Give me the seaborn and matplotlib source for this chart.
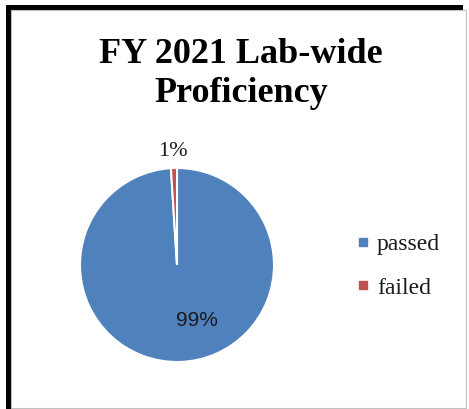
import matplotlib
matplotlib.use("Agg")
import matplotlib.pyplot as plt
import matplotlib.patches as mpatches
from matplotlib.lines import Line2D
import seaborn as sns

# ---- data ----
categories = ["passed", "failed"]
values = [99, 1]
pct_labels = ["99%", "1%"]
title = "FY 2021 Lab-wide\nProficiency"

sns.set_theme(style="white")
plt.rcParams["font.family"] = ["Liberation Serif", "DejaVu Serif"]

colors = ["#4F81BD", "#C0504D"]

W, H = 469, 409
fig = plt.figure(figsize=(W / 100, H / 100), dpi=100)
fig.patch.set_facecolor("white")

# frame (black offset border + thin gray border)
fig.patches.append(mpatches.Rectangle((6 / W, 0), (463 - 6) / W, (H - 5) / H,
                                      transform=fig.transFigure, facecolor="black",
                                      edgecolor="none", zorder=-2))
fig.patches.append(mpatches.Rectangle((11 / W, 1 / H), (466 - 11) / W, (H - 10 - 1) / H,
                                      transform=fig.transFigure, facecolor="white",
                                      edgecolor="#BFBFBF", linewidth=0.8, zorder=-1))

# pie axes: center (177, 265) px, radius ~97 px
cx, cy, half = 177, H - 265, 110
ax = fig.add_axes([(cx - half) / W, (cy - half) / H, 2 * half / W, 2 * half / H])
ax.set_facecolor("none")
ax.set_zorder(1)
lim = half / 97.0
wedges, _ = ax.pie(values, colors=colors, startangle=90, counterclock=False,
                   wedgeprops=dict(edgecolor="white", linewidth=1.5))
ax.set_xlim(-lim, lim)
ax.set_ylim(-lim, lim)
ax.set_aspect("equal")
ax.axis("off")

# percentage labels
ax.text(0.21, -0.57, pct_labels[0], ha="center", va="center", fontsize=15,
        family=["Liberation Sans", "DejaVu Sans"], color="#1a1a1a")
ax.text(-0.04, 1.17, pct_labels[1], ha="center", va="center", fontsize=16,
        color="#1a1a1a")

# title
fig.text(241 / W, 1 - 38 / H, title, ha="center", va="top", fontsize=26,
         fontweight="bold", linespacing=1.22, color="black", zorder=2)

# legend
handles = [Line2D([0], [0], marker="s", linestyle="none", markersize=6,
                  markerfacecolor=c, markeredgecolor=c) for c in colors]
leg = fig.legend(handles, categories, loc="center left",
                 bbox_to_anchor=(344 / W, 1 - 266 / H), frameon=False,
                 fontsize=17, handlelength=0.6, handletextpad=0.3, labelspacing=0.95,
                 borderpad=0, labelcolor="#1a1a1a")
leg.set_zorder(2)

fig.savefig("out.png", dpi=100, facecolor="white")
